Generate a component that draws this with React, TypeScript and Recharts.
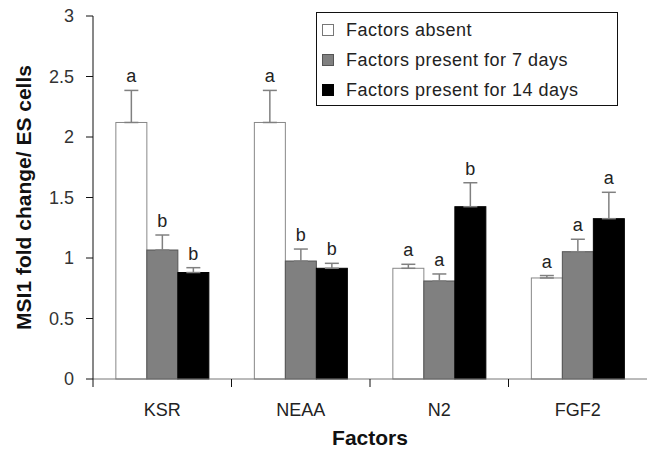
import React from 'react';
import { BarChart, Bar, XAxis, YAxis, ErrorBar, Legend, Label } from 'recharts';

const categories = ['KSR', 'NEAA', 'N2', 'FGF2'];
const seriesNames = ['Factors absent', 'Factors present for 7 days', 'Factors present for 14 days'];

const absentValues = [2.12, 2.12, 0.915, 0.835];
const absentErrors = [0.265, 0.265, 0.033, 0.02];
const absentLetters = ['a', 'a', 'a', 'a'];

const day7Values = [1.066, 0.975, 0.81, 1.052];
const day7Errors = [0.124, 0.099, 0.058, 0.103];
const day7Letters = ['b', 'b', 'a', 'a'];

const day14Values = [0.88, 0.915, 1.424, 1.325];
const day14Errors = [0.04, 0.041, 0.198, 0.218];
const day14Letters = ['b', 'b', 'b', 'a'];

const yTicks = [0, 0.5, 1, 1.5, 2, 2.5, 3];

const data = categories.map((name, i) => ({
  name,
  absent: absentValues[i],
  absentErr: [0, absentErrors[i]],
  absentLetter: absentLetters[i],
  day7: day7Values[i],
  day7Err: [0, day7Errors[i]],
  day7Letter: day7Letters[i],
  day14: day14Values[i],
  day14Err: [0, day14Errors[i]],
  day14Letter: day14Letters[i],
}));

const FONT = '"Liberation Sans", Arial, Helvetica, sans-serif';

const makeShape = (fill: string, stroke: string, valKey: string, errKey: string, letterKey: string) =>
  (props: any) => {
    const { x, y, width, height, payload } = props;
    const v = payload[valKey];
    const e = payload[errKey][1];
    const errTop = v > 0 ? y - (height / v) * e : y;
    return (
      <g>
        <rect x={x} y={y} width={width} height={height} fill={fill} stroke={stroke} strokeWidth={1} />
        <text x={x + width / 2} y={errTop - 8} textAnchor="middle" fontSize={18} fill="#222" fontFamily={FONT}>
          {payload[letterKey]}
        </text>
      </g>
    );
  };

const XTick = (props: any) => {
  const { x, y, payload } = props;
  const off = payload && payload.offset != null ? payload.offset : 0;
  return (
    <g>
      <line x1={x - off} y1={y} x2={x - off} y2={y + 8} stroke="#111" strokeWidth={1} />
      <text x={x} y={y + 37} textAnchor="middle" fontSize={18} fill="#222" fontFamily={FONT}>
        {payload.value}
      </text>
    </g>
  );
};

const swatches = [
  { fill: '#ffffff', stroke: '#777' },
  { fill: '#808080', stroke: '#555' },
  { fill: '#000000', stroke: '#000' },
];

const LegendBox = () => (
  <div
    style={{
      position: 'relative',
      width: 302,
      height: 94,
      border: '1px solid #111',
      boxSizing: 'border-box',
      background: '#fff',
      fontFamily: FONT,
    }}
  >
    {seriesNames.map((n, i) => (
      <div key={n} style={{ position: 'absolute', left: 0, top: 5 + i * 30, height: 24, width: 300 }}>
        <div
          style={{
            position: 'absolute',
            left: 5,
            top: 6,
            width: 12,
            height: 12,
            boxSizing: 'border-box',
            background: swatches[i].fill,
            border: `1px solid ${swatches[i].stroke}`,
          }}
        />
        <div
          style={{
            position: 'absolute',
            left: 29,
            top: 0,
            fontSize: 18,
            lineHeight: '24px',
            color: '#222',
            whiteSpace: 'nowrap',
            letterSpacing: 0.5,
          }}
        >
          {n}
        </div>
      </div>
    ))}
  </div>
);

export default function App() {
  return (
    <div style={{ position: 'absolute', left: 0, top: 0, width: 647, height: 449, background: '#fff', fontFamily: FONT }}>
      <BarChart
        width={647}
        height={449}
        data={data}
        margin={{ top: 16, right: 0, left: 0, bottom: 0 }}
        barCategoryGap="16.5%"
        barGap={0}
      >
        <XAxis
          dataKey="name"
          height={70}
          tickLine={false}
          tickSize={0}
          tickMargin={0}
          axisLine={{ stroke: '#777', strokeWidth: 1 }}
          tick={<XTick />}
          interval={0}
        >
          <Label
            value="Factors"
            position="insideBottom"
            offset={4}
            style={{ fontWeight: 'bold', fontSize: 21, fill: '#111', fontFamily: FONT }}
          />
        </XAxis>
        <YAxis
          width={93}
          domain={[0, 3]}
          ticks={yTicks}
          tickSize={7}
          tickMargin={12}
          axisLine={{ stroke: '#111', strokeWidth: 1 }}
          tickLine={{ stroke: '#111' }}
          tick={{ fontSize: 18, fill: '#333', fontFamily: FONT }}
          interval={0}
        >
          <Label
            value="MSI1 fold change/ ES cells"
            angle={-90}
            position="insideLeft"
            offset={24}
            style={{ textAnchor: 'middle', fontWeight: 'bold', fontSize: 21, fill: '#111', fontFamily: FONT }}
          />
        </YAxis>
        <Legend
          layout="vertical"
          verticalAlign="middle"
          align="center"
          content={() => <LegendBox />}
          wrapperStyle={{ position: 'absolute', left: 316, top: 12, width: 302, height: 94 }}
        />
        <Bar dataKey="absent" name={seriesNames[0]} isAnimationActive={false} shape={makeShape('#ffffff', '#888', 'absent', 'absentErr', 'absentLetter')}>
          <ErrorBar dataKey="absentErr" width={7} stroke="#808080" strokeWidth={1.5} direction="y" />
        </Bar>
        <Bar dataKey="day7" name={seriesNames[1]} isAnimationActive={false} shape={makeShape('#808080', '#555', 'day7', 'day7Err', 'day7Letter')}>
          <ErrorBar dataKey="day7Err" width={7} stroke="#808080" strokeWidth={1.5} direction="y" />
        </Bar>
        <Bar dataKey="day14" name={seriesNames[2]} isAnimationActive={false} shape={makeShape('#000000', '#000', 'day14', 'day14Err', 'day14Letter')}>
          <ErrorBar dataKey="day14Err" width={7} stroke="#808080" strokeWidth={1.5} direction="y" />
        </Bar>
      </BarChart>
    </div>
  );
}
